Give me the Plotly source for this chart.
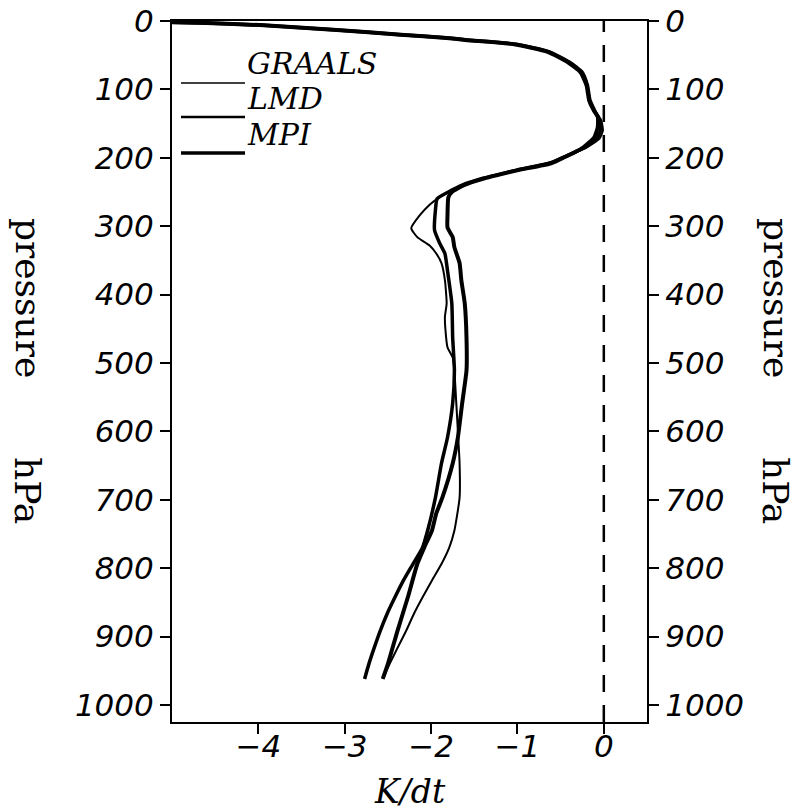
import plotly.graph_objects as go

# ---------------- data (pressure in hPa, heating rate in K/dt) ----------------
graals_p = [0.5, 3, 6, 13, 20, 25, 28, 34, 45, 60, 75, 94, 116, 130, 145, 160, 172, 185,
            200, 208, 218, 225, 230, 240, 250, 260, 269, 284, 303, 316, 328, 340, 354, 379,
            413, 433, 457, 477, 492, 511, 555, 599, 647, 697, 745, 770, 794, 818, 843, 867,
            892, 917, 940, 962]
graals_v = [-5.6, -4.6, -3.98, -3.09, -2.35, -1.80, -1.56, -1.02, -0.63, -0.40, -0.25, -0.19,
            -0.16, -0.11, -0.03, -0.01, -0.05, -0.20, -0.48, -0.63, -1.01, -1.24, -1.40, -1.64,
            -1.80, -1.93, -2.02, -2.13, -2.23, -2.16, -2.02, -1.94, -1.88, -1.84, -1.82, -1.84,
            -1.83, -1.81, -1.75, -1.73, -1.71, -1.69, -1.67, -1.67, -1.73, -1.79, -1.88, -1.99,
            -2.10, -2.20, -2.29, -2.39, -2.48, -2.56]

lmd_p = [0.5, 3, 6, 13, 20, 25, 28, 34, 45, 60, 75, 94, 116, 130, 145, 160, 172, 185,
         200, 208, 218, 225, 230, 240, 250, 260, 277, 306, 325, 340, 365, 413, 463, 511,
         559, 609, 647, 697, 745, 770, 794, 818, 843, 867, 892, 917, 940, 962]
lmd_v = [-5.6, -4.6, -3.98, -3.09, -2.35, -1.80, -1.56, -1.02, -0.63, -0.40, -0.25, -0.19,
         -0.16, -0.11, -0.05, -0.04, -0.08, -0.22, -0.48, -0.63, -1.01, -1.24, -1.40, -1.64,
         -1.80, -1.93, -1.95, -1.96, -1.90, -1.84, -1.81, -1.76, -1.75, -1.73, -1.75, -1.81,
         -1.88, -1.95, -2.04, -2.10, -2.21, -2.32, -2.42, -2.51, -2.59, -2.66, -2.72, -2.77]

mpi_p = [0.5, 3, 6, 13, 20, 25, 28, 34, 45, 60, 75, 94, 116, 130, 140, 155, 170, 185,
         200, 208, 218, 225, 230, 240, 250, 258, 284, 302, 316, 331, 354, 379, 413, 463,
         511, 559, 609, 647, 697, 720, 745, 770, 794, 843, 892, 940, 962]
mpi_v = [-5.6, -4.6, -3.98, -3.09, -2.35, -1.82, -1.58, -1.04, -0.65, -0.42, -0.27, -0.20,
         -0.17, -0.12, -0.07, -0.07, -0.11, -0.24, -0.47, -0.61, -0.99, -1.22, -1.38, -1.62,
         -1.76, -1.80, -1.81, -1.81, -1.75, -1.73, -1.67, -1.65, -1.61, -1.59, -1.59, -1.64,
         -1.69, -1.75, -1.87, -1.94, -1.99, -2.08, -2.16, -2.27, -2.39, -2.50, -2.56]

series_names = ["GRAALS", "LMD", "MPI"]
x_ticks = [-4, -3, -2, -1, 0]
p_ticks = [0, 100, 200, 300, 400, 500, 600, 700, 800, 900, 1000]
x_range = [-5, 0.5]
p_range = [1025, 0]

# ---------------- figure ----------------
W, H = 803, 811
L, R, T, B = 172, 156, 21, 89
PW, PH = W - L - R, H - T - B


def px(xp):
    return (xp - L) / PW


def py(yp):
    return (H - B - yp) / PH


widths = [2, 3.5, 4]
fig = go.Figure()
for name, p, v, w in zip(series_names, [graals_p, lmd_p, mpi_p], [graals_v, lmd_v, mpi_v], widths):
    fig.add_trace(go.Scatter(x=v, y=p, mode="lines", name=name, showlegend=False,
                             line=dict(color="black", width=w, shape="spline", smoothing=0.5)))
# invisible trace to carry the right-hand axis
fig.add_trace(go.Scatter(x=[x_range[0]], y=[p_ticks[0]], yaxis="y2", mode="markers",
                         marker=dict(opacity=0), showlegend=False, hoverinfo="skip"))

tickfont = dict(family="DejaVu Sans", size=31, color="black", style="italic")
axis_common = dict(showgrid=False, zeroline=False, showline=True, linewidth=2, linecolor="black",
                   ticks="outside", ticklen=10, tickwidth=2, tickcolor="black", tickfont=tickfont,
                   automargin=False)

fig.update_layout(
    width=W, height=H,
    margin=dict(l=L, r=R, t=T, b=B, autoexpand=False),
    plot_bgcolor="white", paper_bgcolor="white",
    xaxis=dict(range=x_range, tickvals=x_ticks, mirror=True, ticklabelstandoff=-14, **axis_common),
    yaxis=dict(range=p_range, tickvals=p_ticks, **axis_common),
    yaxis2=dict(range=p_range, tickvals=p_ticks, overlaying="y", side="right", **axis_common),
)

# dashed zero line
fig.add_shape(type="line", xref="x", yref="paper", x0=0, x1=0, y0=0, y1=1,
              line=dict(color="black", width=2.5, dash="17px,13px"))

# manual legend
leg_line_y = [83, 117, 153]
leg_text_y = [63.5, 98.5, 134.5]
leg_w = [1.5, 2.5, 3.5]
for name, ly, ty, w in zip(series_names, leg_line_y, leg_text_y, leg_w):
    fig.add_shape(type="line", xref="paper", yref="paper", x0=px(181), x1=px(245),
                  y0=py(ly), y1=py(ly), line=dict(color="black", width=w))
    fig.add_annotation(xref="paper", yref="paper", x=px(246), y=py(ty), text=name,
                       showarrow=False, xanchor="left", yanchor="middle", borderpad=0,
                       font=dict(family="DejaVu Serif", size=30, color="black", style="italic"))

# axis titles
fig.add_annotation(xref="paper", yref="paper", x=px(410), y=py(791), text="K/dt",
                   showarrow=False, xanchor="center", yanchor="middle",
                   font=dict(family="DejaVu Serif", size=33, color="black", style="italic"))
title_font = dict(family="DejaVu Serif", size=36, color="black")
for cx in [28, 776]:
    fig.add_annotation(xref="paper", yref="paper", x=px(cx), y=py(298), text="pressure",
                       showarrow=False, textangle=90, xanchor="center", yanchor="middle",
                       font=title_font)
    fig.add_annotation(xref="paper", yref="paper", x=px(cx), y=py(490), text="hPa",
                       showarrow=False, textangle=90, xanchor="center", yanchor="middle",
                       font=title_font)

fig.write_html("out.html", config={"displayModeBar": False},
               post_script="document.body.style.margin='0';document.body.style.overflow='hidden';")
